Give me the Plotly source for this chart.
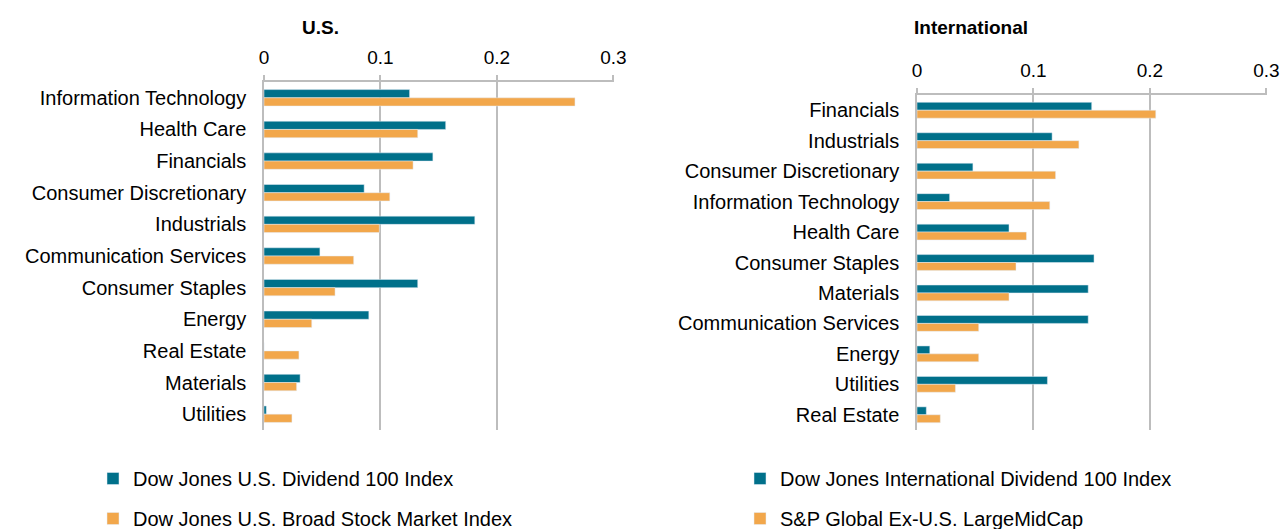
import plotly.graph_objects as go

# ---- data ----
us_sectors = ["Information Technology", "Health Care", "Financials", "Consumer Discretionary",
              "Industrials", "Communication Services", "Consumer Staples", "Energy",
              "Real Estate", "Materials", "Utilities"]
us_div100 = [0.125, 0.156, 0.145, 0.086, 0.181, 0.048, 0.132, 0.090, 0.0, 0.031, 0.002]
us_broad = [0.267, 0.132, 0.128, 0.108, 0.099, 0.077, 0.061, 0.041, 0.030, 0.028, 0.024]

intl_sectors = ["Financials", "Industrials", "Consumer Discretionary", "Information Technology",
                "Health Care", "Consumer Staples", "Materials", "Communication Services",
                "Energy", "Utilities", "Real Estate"]
intl_div100 = [0.150, 0.116, 0.048, 0.028, 0.079, 0.152, 0.147, 0.147, 0.011, 0.112, 0.008]
intl_broad = [0.205, 0.139, 0.119, 0.114, 0.094, 0.085, 0.079, 0.053, 0.053, 0.033, 0.020]

series_names = ["Dow Jones U.S. Dividend 100 Index", "Dow Jones U.S. Broad Stock Market Index",
                "Dow Jones International Dividend 100 Index", "S&P Global Ex-U.S. LargeMidCap"]
x_ticks = [0, 0.1, 0.2, 0.3]
titles = ["U.S.", "International"]

TEAL = "#00708A"
ORANGE = "#F2A74B"
GRID = "#BDBDBD"
FONT = "Liberation Sans, Arial, sans-serif"
W, H = 1284, 529

fig = go.Figure()
fig.add_trace(go.Bar(y=us_sectors, x=us_div100, orientation="h", name=series_names[0],
                     marker_color=TEAL, xaxis="x", yaxis="y", legend="legend",
                     legendgroup="a"))
fig.add_trace(go.Bar(y=us_sectors, x=us_broad, orientation="h", name=series_names[1],
                     marker_color=ORANGE, xaxis="x", yaxis="y", legend="legend",
                     legendgroup="b"))
fig.add_trace(go.Bar(y=intl_sectors, x=intl_div100, orientation="h", name=series_names[2],
                     marker_color=TEAL, xaxis="x2", yaxis="y2", legend="legend2",
                     legendgroup="c"))
fig.add_trace(go.Bar(y=intl_sectors, x=intl_broad, orientation="h", name=series_names[3],
                     marker_color=ORANGE, xaxis="x2", yaxis="y2", legend="legend2",
                     legendgroup="d"))

def px_x(p):
    return p / W

def px_y(p):
    return 1 - p / H

xcommon = dict(side="top", range=[0, 0.3005], tickvals=x_ticks, showgrid=True,
               gridcolor=GRID, gridwidth=1.5, showline=True, linecolor=GRID, linewidth=1.5,
               ticks="outside", ticklen=5, tickcolor=GRID, tickwidth=1.5, zeroline=False,
               tickfont=dict(size=19, color="#000"), ticklabelstandoff=4, automargin=False)
ycommon = dict(autorange="reversed", showgrid=False, showline=True, linecolor=GRID,
               linewidth=1.5, ticks="", tickfont=dict(size=20, color="#000"),
               ticklabelstandoff=12, type="category", automargin=False)

legcommon = dict(xanchor="left", yanchor="top", orientation="v", tracegroupgap=11,
                 font=dict(size=20, color="#000"), bgcolor="rgba(0,0,0,0)")

fig.update_layout(
    width=W, height=H,
    margin=dict(l=0, r=0, t=0, b=0, autoexpand=False),
    paper_bgcolor="white", plot_bgcolor="white",
    font=dict(family=FONT, color="#000", size=20),
    barmode="group", bargap=0.48, bargroupgap=0,
    xaxis=dict(domain=[px_x(264), px_x(614)], anchor="y", **xcommon),
    yaxis=dict(domain=[px_y(430), px_y(82)], anchor="x", **ycommon),
    xaxis2=dict(domain=[px_x(917), px_x(1267)], anchor="y2", **xcommon),
    yaxis2=dict(domain=[px_y(430), px_y(95)], anchor="x2", **ycommon),
    legend=dict(x=px_x(93), y=px_y(459), **legcommon),
    legend2=dict(x=px_x(740), y=px_y(459), **legcommon),
    showlegend=True,
    annotations=[
        dict(text="<b>" + titles[0] + "</b>", x=px_x(320), y=px_y(27), xref="paper", yref="paper",
             xanchor="center", yanchor="middle", showarrow=False, font=dict(size=19, color="#000")),
        dict(text="<b>" + titles[1] + "</b>", x=px_x(912), y=px_y(27), xref="paper", yref="paper",
             xanchor="left", yanchor="middle", showarrow=False, font=dict(size=19, color="#000")),
    ],
)

fig.write_html("out.html", config={"displayModeBar": False},
               post_script="document.body.style.margin='0';document.body.style.padding='0';")
